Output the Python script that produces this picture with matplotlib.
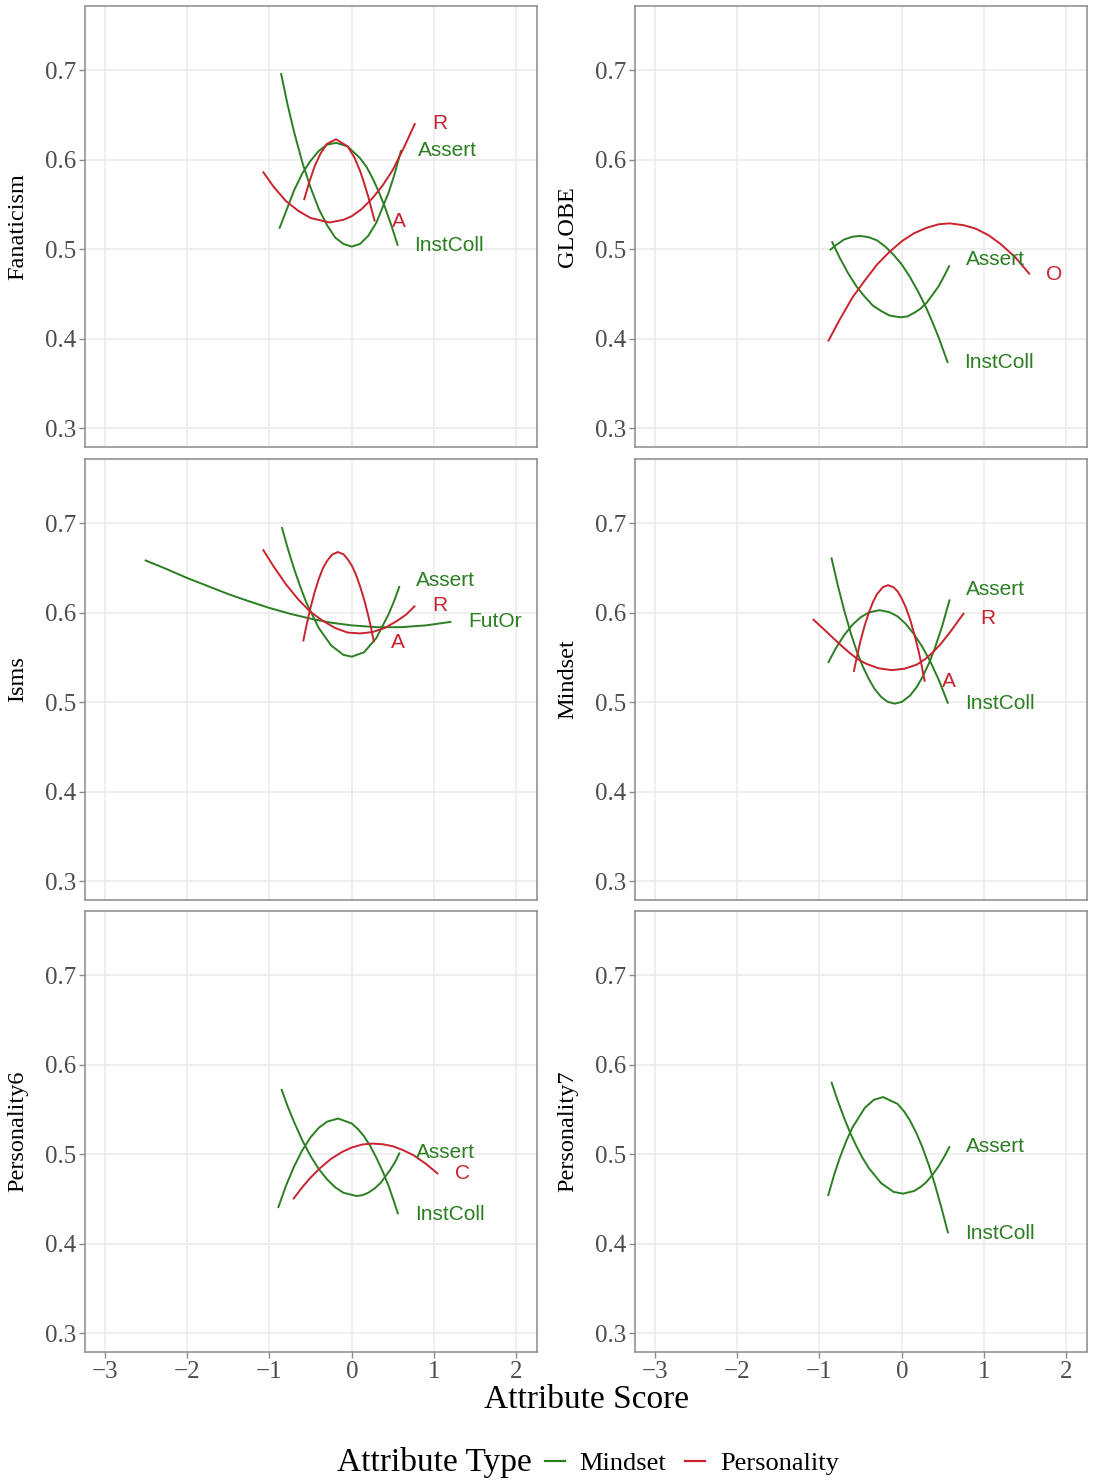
import numpy as np
from matplotlib import pyplot as plt
from matplotlib.lines import Line2D

# ---- data (attribute score vs. predicted value) ----
panel_names = ['Fanaticism', 'GLOBE', 'Isms', 'Mindset', 'Personality6', 'Personality7']

# Fanaticism
fan_assert_x = [-0.86, -0.78, -0.7, -0.6, -0.5, -0.4, -0.3, -0.2, -0.1, 0.0, 0.1, 0.2, 0.3, 0.45, 0.52, 0.6]
fan_assert_y = [0.697, 0.662, 0.631, 0.597, 0.569, 0.545, 0.527, 0.513, 0.506, 0.503, 0.506, 0.515, 0.530, 0.564, 0.584, 0.611]
fan_instcoll_x = [-0.88, -0.8, -0.7, -0.6, -0.5, -0.4, -0.3, -0.19, -0.05, 0.1, 0.18, 0.25, 0.32, 0.4, 0.48, 0.56]
fan_instcoll_y = [0.523, 0.542, 0.566, 0.585, 0.599, 0.610, 0.617, 0.619, 0.615, 0.602, 0.592, 0.580, 0.566, 0.548, 0.527, 0.504]
fan_r_x = [-1.08, -0.95, -0.8, -0.65, -0.5, -0.27, -0.1, 0.0, 0.12, 0.25, 0.38, 0.5, 0.64, 0.77]
fan_r_y = [0.587, 0.570, 0.554, 0.543, 0.535, 0.530, 0.533, 0.537, 0.545, 0.557, 0.572, 0.589, 0.615, 0.641]
fan_a_x = [-0.58, -0.52, -0.45, -0.38, -0.3, -0.19, -0.05, 0.03, 0.1, 0.15, 0.2, 0.24, 0.28]
fan_a_y = [0.555, 0.574, 0.593, 0.607, 0.618, 0.623, 0.615, 0.603, 0.588, 0.574, 0.559, 0.545, 0.531]

# GLOBE
glb_assert_x = [-0.85, -0.75, -0.65, -0.55, -0.45, -0.35, -0.25, -0.15, -0.02, 0.07, 0.15, 0.22, 0.3, 0.38, 0.45, 0.52, 0.58]
glb_assert_y = [0.509, 0.490, 0.473, 0.4585, 0.447, 0.437, 0.431, 0.426, 0.424, 0.425, 0.429, 0.433, 0.440, 0.450, 0.459, 0.471, 0.482]
glb_instcoll_x = [-0.875, -0.8, -0.7, -0.6, -0.51, -0.4, -0.3, -0.2, -0.1, 0.0, 0.1, 0.2, 0.3, 0.38, 0.45, 0.56]
glb_instcoll_y = [0.499, 0.5046, 0.511, 0.514, 0.515, 0.5135, 0.510, 0.503, 0.494, 0.483, 0.469, 0.4525, 0.434, 0.417, 0.401, 0.373]
glb_o_x = [-0.895, -0.75, -0.6, -0.45, -0.3, -0.15, 0.0, 0.15, 0.3, 0.45, 0.58, 0.75, 0.9, 1.05, 1.2, 1.38, 1.555]
glb_o_y = [0.397, 0.422, 0.446, 0.465, 0.483, 0.497, 0.509, 0.518, 0.524, 0.528, 0.529, 0.527, 0.523, 0.516, 0.506, 0.491, 0.472]

# Isms
ism_assert_x = [-0.85, -0.78, -0.7, -0.62, -0.55, -0.4, -0.25, -0.1, 0.0, 0.15, 0.3, 0.45, 0.52, 0.58]
ism_assert_y = [0.696, 0.673, 0.649, 0.628, 0.611, 0.583, 0.5635, 0.553, 0.551, 0.556, 0.572, 0.599, 0.6145, 0.630]
ism_futor_x = [-2.515, -2.25, -2.0, -1.75, -1.5, -1.25, -1.0, -0.75, -0.5, -0.25, 0.0, 0.3, 0.6, 0.9, 1.21]
ism_futor_y = [0.659, 0.649, 0.639, 0.630, 0.621, 0.613, 0.6055, 0.599, 0.5935, 0.589, 0.586, 0.584, 0.584, 0.586, 0.590]
ism_r_x = [-1.08, -0.95, -0.8, -0.65, -0.5, -0.35, -0.2, -0.05, 0.1, 0.25, 0.4, 0.55, 0.66, 0.77]
ism_r_y = [0.671, 0.652, 0.632, 0.615, 0.601, 0.591, 0.583, 0.578, 0.577, 0.5785, 0.583, 0.591, 0.598, 0.608]
ism_a_x = [-0.59, -0.55, -0.5, -0.45, -0.4, -0.35, -0.3, -0.24, -0.17, -0.1, -0.05, 0.0, 0.05, 0.1, 0.15, 0.2, 0.24, 0.27]
ism_a_y = [0.568, 0.586, 0.606, 0.6235, 0.638, 0.650, 0.658, 0.665, 0.668, 0.6655, 0.660, 0.653, 0.643, 0.630, 0.615, 0.597, 0.581, 0.567]

# Mindset
mnd_assert_x = [-0.855, -0.78, -0.7, -0.62, -0.55, -0.48, -0.4, -0.33, -0.25, -0.17, -0.085, 0.0, 0.1, 0.18, 0.25, 0.33, 0.4, 0.49, 0.583]
mnd_assert_y = [0.662, 0.632, 0.603, 0.5775, 0.558, 0.5415, 0.526, 0.515, 0.506, 0.5005, 0.4985, 0.5004, 0.5075, 0.5168, 0.528, 0.5435, 0.560, 0.585, 0.615]
mnd_instcoll_x = [-0.895, -0.8, -0.7, -0.6, -0.5, -0.4, -0.27, -0.15, -0.05, 0.05, 0.15, 0.25, 0.35, 0.45, 0.563]
mnd_instcoll_y = [0.544, 0.5606, 0.575, 0.5866, 0.595, 0.6004, 0.603, 0.6008, 0.596, 0.5875, 0.576, 0.562, 0.545, 0.525, 0.4985]
mnd_r_x = [-1.08, -0.95, -0.835, -0.73, -0.63, -0.53, -0.43, -0.28, -0.125, 0.03, 0.18, 0.28, 0.38, 0.48, 0.583, 0.67, 0.757]
mnd_r_y = [0.593, 0.582, 0.572, 0.563, 0.555, 0.548, 0.543, 0.538, 0.536, 0.5375, 0.542, 0.548, 0.556, 0.566, 0.578, 0.589, 0.600]
mnd_a_x = [-0.583, -0.54, -0.5, -0.45, -0.4, -0.35, -0.3, -0.23, -0.166, -0.1, -0.05, 0.0, 0.05, 0.1, 0.15, 0.2, 0.24, 0.28]
mnd_a_y = [0.534, 0.553, 0.569, 0.586, 0.600, 0.612, 0.621, 0.6287, 0.631, 0.6286, 0.624, 0.616, 0.606, 0.593, 0.577, 0.559, 0.542, 0.523]

# Personality6
p6_assert_x = [-0.855, -0.78, -0.7, -0.6, -0.5, -0.4, -0.3, -0.2, -0.1, 0.057, 0.13, 0.2, 0.28, 0.35, 0.47, 0.53, 0.583]
p6_assert_y = [0.573, 0.554, 0.536, 0.5155, 0.498, 0.4835, 0.472, 0.463, 0.457, 0.4534, 0.4543, 0.457, 0.462, 0.468, 0.483, 0.492, 0.502]
p6_instcoll_x = [-0.895, -0.8, -0.7, -0.6, -0.5, -0.4, -0.3, -0.166, 0.0, 0.08, 0.15, 0.22, 0.3, 0.38, 0.45, 0.51, 0.563]
p6_instcoll_y = [0.440, 0.4646, 0.4865, 0.5047, 0.519, 0.5297, 0.5365, 0.540, 0.5345, 0.5278, 0.520, 0.510, 0.496, 0.480, 0.464, 0.448, 0.433]
p6_c_x = [-0.713, -0.6, -0.5, -0.38, -0.25, -0.12, 0.0, 0.13, 0.26, 0.38, 0.5, 0.62, 0.75, 0.9, 1.049]
p6_c_y = [0.4497, 0.4633, 0.474, 0.485, 0.495, 0.5025, 0.5076, 0.511, 0.512, 0.5112, 0.509, 0.5048, 0.499, 0.4894, 0.478]

# Personality7
p7_assert_x = [-0.855, -0.78, -0.7, -0.62, -0.55, -0.48, -0.4, -0.25, -0.1, 0.016, 0.15, 0.23, 0.3, 0.38, 0.45, 0.52, 0.583]
p7_assert_y = [0.581, 0.5605, 0.5406, 0.5227, 0.509, 0.4966, 0.4846, 0.4677, 0.458, 0.456, 0.459, 0.4636, 0.469, 0.4779, 0.487, 0.4979, 0.509]
p7_instcoll_x = [-0.895, -0.82, -0.75, -0.67, -0.6, -0.45, -0.34, -0.227, -0.05, 0.03, 0.1, 0.18, 0.25, 0.33, 0.4, 0.48, 0.563]
p7_instcoll_y = [0.4534, 0.4775, 0.4967, 0.5157, 0.5298, 0.5518, 0.5609, 0.564, 0.5563, 0.5478, 0.5377, 0.5233, 0.508, 0.4877, 0.467, 0.441, 0.4117]

x_ticks = [-3, -2, -1, 0, 1, 2]
y_ticks = [0.3, 0.4, 0.5, 0.6, 0.7]

colors = {'Mindset': '#2b7f22', 'Personality': '#c8232e'}

panels = [
    [(fan_assert_x, fan_assert_y, 'Mindset', 'Assert'),
     (fan_instcoll_x, fan_instcoll_y, 'Mindset', 'InstColl'),
     (fan_r_x, fan_r_y, 'Personality', 'R'),
     (fan_a_x, fan_a_y, 'Personality', 'A')],
    [(glb_assert_x, glb_assert_y, 'Mindset', 'Assert'),
     (glb_instcoll_x, glb_instcoll_y, 'Mindset', 'InstColl'),
     (glb_o_x, glb_o_y, 'Personality', 'O')],
    [(ism_assert_x, ism_assert_y, 'Mindset', 'Assert'),
     (ism_futor_x, ism_futor_y, 'Mindset', 'FutOr'),
     (ism_r_x, ism_r_y, 'Personality', 'R'),
     (ism_a_x, ism_a_y, 'Personality', 'A')],
    [(mnd_assert_x, mnd_assert_y, 'Mindset', 'Assert'),
     (mnd_instcoll_x, mnd_instcoll_y, 'Mindset', 'InstColl'),
     (mnd_r_x, mnd_r_y, 'Personality', 'R'),
     (mnd_a_x, mnd_a_y, 'Personality', 'A')],
    [(p6_assert_x, p6_assert_y, 'Mindset', 'Assert'),
     (p6_instcoll_x, p6_instcoll_y, 'Mindset', 'InstColl'),
     (p6_c_x, p6_c_y, 'Personality', 'C')],
    [(p7_assert_x, p7_assert_y, 'Mindset', 'Assert'),
     (p7_instcoll_x, p7_instcoll_y, 'Mindset', 'InstColl')],
]

# small vertical nudges (points) so neighbouring end labels don't collide
label_nudge = {(1, 'Assert'): 4, (2, 'Assert'): 4, (3, 'Assert'): 7, (3, 'R'): -4}

serif = 'Liberation Serif'
sans = 'Liberation Sans'

W, H = 1094, 1482
fig = plt.figure(figsize=(W / 100, H / 100), dpi=100)

col_left = [85, 635]
row_top = [6, 459, 911]
pw, ph = 452, 441

for i, name in enumerate(panel_names):
    r, c = divmod(i, 2)
    ax = fig.add_axes([col_left[c] / W, 1 - (row_top[r] + ph) / H, pw / W, ph / H])
    ax.set_xlim(-3.24, 2.25)
    ax.set_ylim(0.279, 0.772)
    ax.set_xticks(x_ticks)
    ax.set_yticks(y_ticks)
    ax.set_yticklabels([f'{v:.1f}' for v in y_ticks])
    ax.grid(True, color='#ebebeb', linewidth=1.1)
    ax.set_axisbelow(True)
    for s in ax.spines.values():
        s.set_color('#8a8a8a')
        s.set_linewidth(1.1)
    ax.tick_params(colors='#8a8a8a', length=4, width=1.0, pad=2.5,
                   labelcolor='#4d4d4d', labelsize=18)
    if r == 2:
        ax.set_xticklabels(['\u2212' + str(-v) if v < 0 else str(v) for v in x_ticks])
    else:
        # only the bottom row carries the x axis
        ax.tick_params(axis='x', labelbottom=False, length=0)
    for lab in ax.get_xticklabels() + ax.get_yticklabels():
        lab.set_fontfamily(serif)
    ax.set_ylabel(name, fontfamily=serif, fontsize=17.5, color='black')
    ax.yaxis.label.set_va('center')
    ax.yaxis.set_label_coords(-0.149, 0.5)

    for xs, ys, kind, lab in panels[i]:
        ax.plot(xs, ys, color=colors[kind], linewidth=1.4, solid_capstyle='butt')
        dy = label_nudge.get((i, lab), 0)
        ax.annotate(lab, (xs[-1], ys[-1]), xytext=(12, dy), textcoords='offset points',
                    ha='left', va='center', color=colors[kind],
                    fontfamily=sans, fontsize=15)

fig.text(586 / W, 1 - 1400 / H, 'Attribute Score', ha='center', va='center',
         fontfamily=serif, fontsize=24)

fig.text(337 / W, 1 - 1463 / H, 'Attribute Type', ha='left', va='center',
         fontfamily=serif, fontsize=24)
handles = [Line2D([], [], color=colors['Mindset'], linewidth=1.6),
           Line2D([], [], color=colors['Personality'], linewidth=1.6)]
fig.legend(handles, ['Mindset', 'Personality'], ncol=2, loc='center left',
           bbox_to_anchor=(545 / W, 1 - 1463 / H), frameon=False,
           prop={'family': serif, 'size': 19}, handlelength=0.76,
           handletextpad=0.55, columnspacing=0.72, borderaxespad=0, borderpad=0)

fig.savefig('out.png', dpi=100)
